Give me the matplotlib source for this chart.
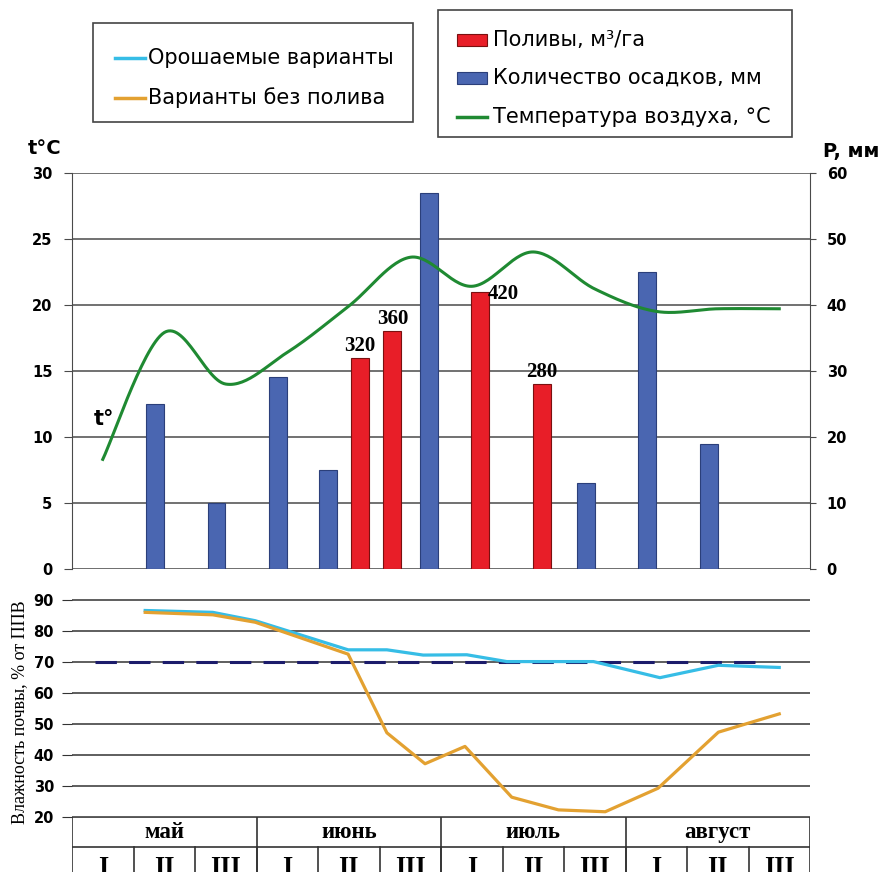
import numpy as np
import matplotlib
matplotlib.use('Agg')
import matplotlib.pyplot as plt
from matplotlib.patches import Rectangle
from matplotlib.lines import Line2D

# decades: 0..11 = май I .. август III (position inside a decade = date)
months = ['май', 'июнь', 'июль', 'август']
decades = ['I', 'II', 'III'] * 4

# air temperature, °C (one value per decade)
temp = [8.3, 17.9, 14.0, 16.4, 19.9, 23.6, 21.4, 24.0, 21.2, 19.5, 19.7, 19.7]

# precipitation, mm
rain_x = [0.85, 1.85, 2.85, 3.66, 5.30, 7.86, 8.85, 9.86]
rain_mm = [25, 10, 29, 15, 57, 13, 45, 19]

# irrigation, m3/ha
irr_x = [4.18, 4.71, 6.13, 7.14]
irr_m3 = [320, 360, 420, 280]

# soil moisture, % of field capacity
wet_x = [0.69, 1.79, 2.48, 3.99, 4.62, 5.21, 5.92, 6.57, 7.98, 9.06, 10.01, 11.0]
wet_y = [86.6, 86.0, 83.3, 73.9, 73.9, 72.2, 72.3, 70.1, 70.1, 64.9, 68.9, 68.2]
dry_x = [0.69, 1.79, 2.48, 3.99, 4.62, 5.24, 5.89, 6.65, 7.41, 8.17, 9.03, 10.01, 11.0]
dry_y = [86.0, 85.2, 82.8, 72.5, 47.1, 37.1, 42.7, 26.3, 22.2, 21.6, 29.2, 47.3, 53.2]
limit = 70
limit_span = [-0.13, 10.77]

c_blue = '#4A66B1'
c_red = '#E81E28'
c_green = '#1F8A32'
c_cyan = '#36BDE6'
c_orange = '#E3A131'
c_grid = '#4A4A4A'

W, H = 896, 872
SANS = 'DejaVu Sans'
SERIF = 'Liberation Serif'


def catmull(xs, ys, n=30):
    pts = np.column_stack([xs, ys]).astype(float)
    P = np.vstack([pts[0], pts, pts[-1]])
    out = []
    t = np.linspace(0, 1, n, endpoint=False)[:, None]
    for i in range(1, len(P) - 2):
        p0, p1, p2, p3 = P[i - 1], P[i], P[i + 1], P[i + 2]
        out.append(0.5 * (2 * p1 + (-p0 + p2) * t + (2 * p0 - 5 * p1 + 4 * p2 - p3) * t ** 2
                          + (-p0 + 3 * p1 - 3 * p2 + p3) * t ** 3))
    out.append(pts[-1:])
    return np.vstack(out)


def fx(px):
    return px / W


def fy(py):
    return 1 - py / H


fig = plt.figure(figsize=(W / 100, H / 100), dpi=100)

# ---------- top panel ----------
ax2 = fig.add_axes([fx(72), fy(569), (810 - 72) / W, (569 - 172.7) / H])
ax1 = ax2.twinx()
ax1.yaxis.tick_left()
ax2.yaxis.tick_right()
ax1.set_zorder(ax2.get_zorder() + 1)
ax1.patch.set_visible(False)

ax2.set_xlim(-0.5, 11.5)
ax2.set_ylim(0, 60)
ax1.set_ylim(0, 30)
ax2.set_yticks(range(0, 61, 10))
ax1.set_yticks(range(0, 31, 5))
ax2.grid(axis='y', color=c_grid, lw=1.1)
ax2.set_axisbelow(True)

ax2.bar(rain_x, rain_mm, width=0.29, color=c_blue, edgecolor='#2B3F7A', lw=0.8)
ax2.bar(irr_x, np.array(irr_m3) / 10, width=0.29, color=c_red, edgecolor='#7A1010', lw=0.8)

sm = catmull(np.arange(len(temp)), temp)
ax1.plot(sm[:, 0], sm[:, 1], color=c_green, lw=2.2)

lab_off = {320: (0, 0.9), 360: (0, 0.9), 420: (0.38, -0.15), 280: (0, 0.9)}
for x, v in zip(irr_x, irr_m3):
    dx, dy = lab_off[v]
    ax1.text(x + dx, v / 20 + dy, str(v), ha='center', va='center',
             family=SERIF, fontweight='bold', fontsize=15)

ax1.text(0.02, 11.35, 't°', ha='center', va='center', family=SANS,
         fontweight='bold', fontsize=15)

ax2.set_xticks(np.arange(0.5, 11, 1))
ax2.tick_params(axis='x', length=4, color=c_grid, labelbottom=False)
ax1.tick_params(axis='x', length=0)
for a in (ax1, ax2):
    for s in a.spines.values():
        s.set_visible(False)
ax1.spines['left'].set_visible(True)
ax1.spines['left'].set_color(c_grid)
ax2.spines['right'].set_visible(True)
ax2.spines['right'].set_color(c_grid)
ax2.spines['bottom'].set_visible(True)
ax2.spines['bottom'].set_color(c_grid)
ax1.tick_params(axis='y', length=6, color=c_grid, pad=8)
ax2.tick_params(axis='y', length=4, color=c_grid, pad=8)
for lab in ax1.get_yticklabels() + ax2.get_yticklabels():
    lab.set_family(SANS)
    lab.set_fontweight('bold')
    lab.set_fontsize(10.5)

fig.text(fx(45), fy(149), 't°C', ha='center', va='center', family=SANS,
         fontweight='bold', fontsize=14)
fig.text(fx(851), fy(151), 'P, мм', ha='center', va='center', family=SANS,
         fontweight='bold', fontsize=14)

# ---------- bottom panel ----------
axb = fig.add_axes([fx(72), fy(816.7), (810 - 72) / W, (816.7 - 569) / H])
axb.set_xlim(-0.5, 11.5)
axb.set_ylim(20, 100)
axb.set_yticks(range(20, 91, 10))
axb.grid(axis='y', color='#333333', lw=1.1)
axb.set_axisbelow(True)
for s in axb.spines.values():
    s.set_visible(False)
axb.tick_params(axis='y', length=7, color='#333333', pad=6)
axb.tick_params(axis='x', length=0, labelbottom=False)
for lab in axb.get_yticklabels():
    lab.set_family(SANS)
    lab.set_fontweight('bold')
    lab.set_fontsize(10.5)
axb.plot(limit_span, [limit, limit], color='#1C1C6B', lw=2.2, dashes=(7, 4))
axb.plot(wet_x, wet_y, color=c_cyan, lw=2.3)
axb.plot(dry_x, dry_y, color=c_orange, lw=2.3)

fig.text(fx(20), fy(712), 'Влажность почвы, % от ППВ', rotation=90, ha='center',
         va='center', family=SERIF, fontsize=13)

# ---------- month / decade table ----------
axt = fig.add_axes([fx(72), fy(905), (810 - 72) / W, (905 - 816.7) / H])
axt.set_xlim(-0.5, 11.5)
axt.set_ylim(905, 816.7)
axt.axis('off')
tc = '#333333'
axt.plot([-0.5, 11.5], [816.7, 816.7], color=tc, lw=1.2)
axt.plot([-0.5, 11.5], [846.7, 846.7], color=tc, lw=1.2)
for xb in [-0.5, 2.5, 5.5, 8.5, 11.5]:
    axt.plot([xb, xb], [816.7, 905], color=tc, lw=1.2)
for xb in np.arange(0.5, 11, 1):
    axt.plot([xb, xb], [846.7, 905], color=tc, lw=1.2)
for i, m in enumerate(months):
    axt.text(3 * i + 1, 832, m, ha='center', va='center', family=SERIF,
             fontweight='bold', fontsize=16.5)
for i, d in enumerate(decades):
    axt.text(i, 856, d, ha='center', va='top', family=SERIF,
             fontweight='bold', fontsize=19)

# ---------- legends ----------
def box(x0, y0, x1, y1):
    fig.add_artist(Rectangle((fx(x0), fy(y1)), (x1 - x0) / W, (y1 - y0) / H,
                             transform=fig.transFigure, fill=False, ec='#444444', lw=1.2))


box(93, 23, 413, 122)
for yy, col, lab in [(58, c_cyan, 'Орошаемые варианты'), (98, c_orange, 'Варианты без полива')]:
    fig.add_artist(Line2D([fx(115), fx(145)], [fy(yy), fy(yy)], color=col, lw=2.5))
    fig.text(fx(148), fy(yy), lab, ha='left', va='center', family=SANS, fontsize=15)

box(438, 10, 792, 137)
for yy, col, ec, lab in [(40, c_red, '#7A1010', 'Поливы, м³/га'),
                         (78, c_blue, '#2B3F7A', 'Количество осадков, мм')]:
    fig.add_artist(Rectangle((fx(457), fy(yy + 6)), 30 / W, 12 / H, transform=fig.transFigure,
                             fc=col, ec=ec, lw=0.8))
    fig.text(fx(493), fy(yy), lab, ha='left', va='center', family=SANS, fontsize=15)
fig.add_artist(Line2D([fx(457), fx(487)], [fy(117), fy(117)], color=c_green, lw=2.5))
fig.text(fx(493), fy(117), 'Температура воздуха, °C', ha='left', va='center', family=SANS,
         fontsize=15)

fig.savefig('out.png', dpi=100)
